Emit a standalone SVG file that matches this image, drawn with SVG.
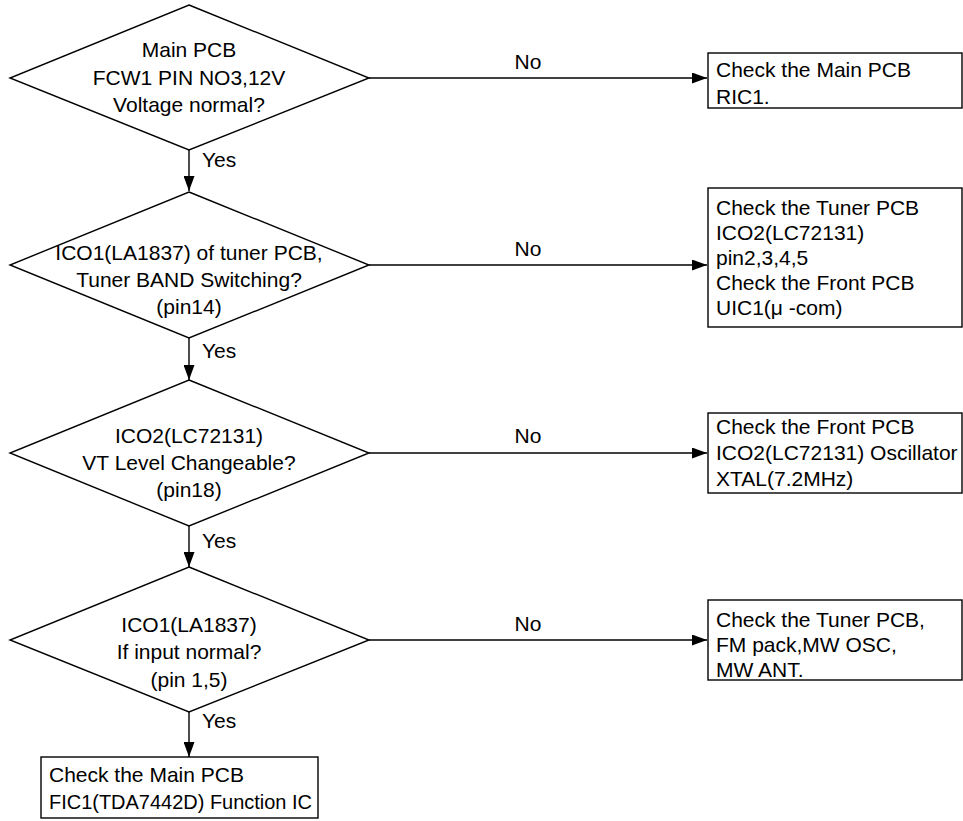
<svg xmlns="http://www.w3.org/2000/svg" width="963" height="821" viewBox="0 0 963 821">
<style>
.s{fill:#fff;stroke:#000;stroke-width:1.4}
.t{font-family:"Liberation Sans",Arial,sans-serif;font-size:21px;fill:#000}
.c{text-anchor:middle}
.l{fill:none;stroke:#000;stroke-width:1.4}
</style>
<defs>
<marker id="a" markerWidth="15" markerHeight="11" refX="15" refY="5.5" orient="auto" markerUnits="userSpaceOnUse">
<path d="M0,0 L15,5.5 L0,11 Z" fill="#000"/>
</marker>
</defs>
<rect width="963" height="821" fill="#fff"/>
<g id="connectors">
<line class="l" x1="369" y1="78" x2="707" y2="78" marker-end="url(#a)"/>
<line class="l" x1="369" y1="265" x2="707" y2="265" marker-end="url(#a)"/>
<line class="l" x1="369" y1="453" x2="707" y2="453" marker-end="url(#a)"/>
<line class="l" x1="369" y1="640" x2="707" y2="640" marker-end="url(#a)"/>
<line class="l" x1="189" y1="150" x2="189" y2="191" marker-end="url(#a)"/>
<line class="l" x1="189" y1="338" x2="189" y2="380" marker-end="url(#a)"/>
<line class="l" x1="189" y1="526" x2="189" y2="567" marker-end="url(#a)"/>
<line class="l" x1="189" y1="712" x2="189" y2="757" marker-end="url(#a)"/>
<text class="t c" x="528" y="69">No</text>
<text class="t c" x="528" y="256">No</text>
<text class="t c" x="528" y="443">No</text>
<text class="t c" x="528" y="631">No</text>
<text class="t" x="202" y="167">Yes</text>
<text class="t" x="202" y="358">Yes</text>
<text class="t" x="202" y="548">Yes</text>
<text class="t" x="202" y="728">Yes</text>
</g>
<g id="d1">
<polygon class="s" points="189,5 369,78 189,150 10,78"/>
<text class="t c" x="189" y="57">Main PCB</text>
<text class="t c" x="189" y="85">FCW1 PIN NO3,12V</text>
<text class="t c" x="189" y="112">Voltage normal?</text>
</g>
<g id="d2">
<polygon class="s" points="189,192 369,265 189,338 10,265"/>
<text class="t c" x="189" y="260">ICO1(LA1837) of tuner PCB,</text>
<text class="t c" x="189" y="287">Tuner BAND Switching?</text>
<text class="t c" x="189" y="314">(pin14)</text>
</g>
<g id="d3">
<polygon class="s" points="189,380 369,453 189,526 10,453"/>
<text class="t c" x="189" y="443">ICO2(LC72131)</text>
<text class="t c" x="189" y="470">VT Level Changeable?</text>
<text class="t c" x="189" y="497">(pin18)</text>
</g>
<g id="d4">
<polygon class="s" points="189,567 369,640 189,712 10,640"/>
<text class="t c" x="189" y="632">ICO1(LA1837)</text>
<text class="t c" x="189" y="659">If input normal?</text>
<text class="t c" x="189" y="687">(pin 1,5)</text>
</g>
<g id="b1">
<rect class="s" x="708" y="53" width="254" height="55"/>
<text class="t" x="716" y="77">Check the Main PCB</text>
<text class="t" x="716" y="104">RIC1.</text>
</g>
<g id="b2">
<rect class="s" x="708" y="188" width="254" height="139"/>
<text class="t" x="716" y="215">Check the Tuner PCB</text>
<text class="t" x="716" y="240">ICO2(LC72131)</text>
<text class="t" x="716" y="265">pin2,3,4,5</text>
<text class="t" x="716" y="290">Check the Front PCB</text>
<text class="t" x="716" y="315">UIC1(μ -com)</text>
</g>
<g id="b3">
<rect class="s" x="708" y="413" width="254" height="80"/>
<text class="t" x="716" y="434">Check the Front PCB</text>
<text class="t" x="716" y="460">ICO2(LC72131) Oscillator</text>
<text class="t" x="716" y="486">XTAL(7.2MHz)</text>
</g>
<g id="b4">
<rect class="s" x="708" y="600" width="254" height="80"/>
<text class="t" x="716" y="627">Check the Tuner PCB,</text>
<text class="t" x="716" y="652">FM pack,MW OSC,</text>
<text class="t" x="716" y="677">MW ANT.</text>
</g>
<g id="b5">
<rect class="s" x="41" y="757" width="277" height="61"/>
<text class="t" x="49" y="782">Check the Main PCB</text>
<text class="t" x="49" y="809" textLength="263" lengthAdjust="spacingAndGlyphs">FIC1(TDA7442D) Function IC</text>
</g>
</svg>
